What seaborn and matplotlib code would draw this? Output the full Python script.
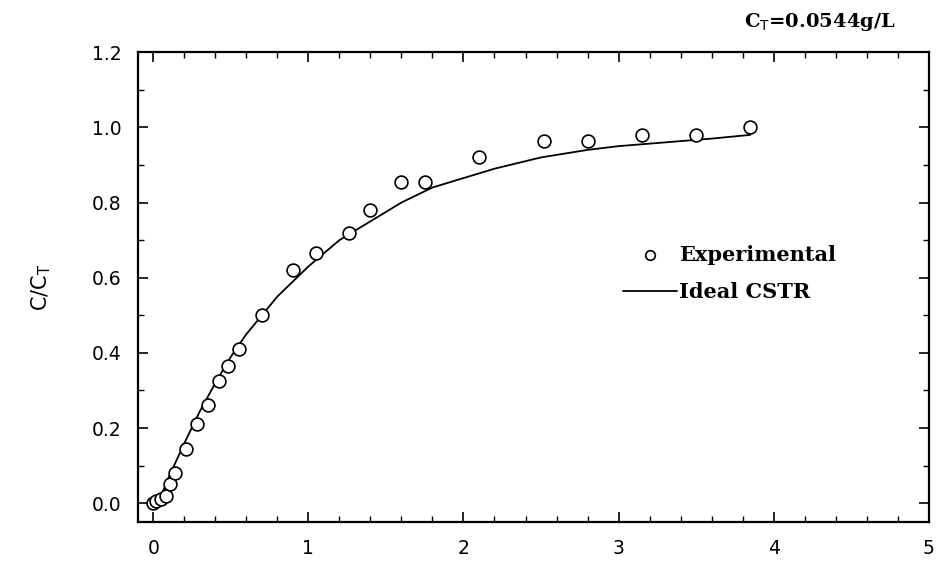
import numpy as np
import pandas as pd
import matplotlib
matplotlib.use('Agg')
import matplotlib.pyplot as plt
from matplotlib.ticker import MultipleLocator
import seaborn as sns

# ------------------------------
# Data
# ------------------------------
exp_time = [0.0, 0.02, 0.05, 0.08, 0.11, 0.14, 0.21, 0.28, 0.35, 0.42, 0.48, 0.55,
            0.70, 0.90, 1.05, 1.26, 1.40, 1.60, 1.75, 2.10, 2.52, 2.80, 3.15, 3.50, 3.85]
exp_conc = [0.0, 0.005, 0.01, 0.02, 0.05, 0.08, 0.145, 0.21, 0.26, 0.325, 0.365, 0.41,
            0.50, 0.62, 0.665, 0.72, 0.78, 0.855, 0.855, 0.92, 0.965, 0.965, 0.98, 0.98, 1.00]

cstr_time = [0.0, 0.05, 0.1, 0.2, 0.3, 0.4, 0.5, 0.6, 0.7, 0.8, 1.0, 1.2, 1.4, 1.6,
             1.8, 2.0, 2.2, 2.5, 2.8, 3.0, 3.3, 3.6, 3.85]
cstr_conc = [0.0, 0.02, 0.07, 0.16, 0.245, 0.32, 0.39, 0.45, 0.50, 0.55, 0.63, 0.70,
             0.75, 0.80, 0.84, 0.865, 0.89, 0.92, 0.94, 0.95, 0.96, 0.97, 0.98]

df_exp = pd.DataFrame({'t': exp_time, 'c': exp_conc})
df_cstr = pd.DataFrame({'t': cstr_time, 'c': cstr_conc})

sns.set_style('ticks')
plt.rcParams['font.family'] = ['DejaVu Sans']
plt.rcParams['text.color'] = 'black'
plt.rcParams['axes.labelcolor'] = 'black'
plt.rcParams['xtick.color'] = 'black'
plt.rcParams['ytick.color'] = 'black'

fig = plt.figure(figsize=(9.38, 5.61), dpi=100)
ax = fig.add_axes([0.147, 0.0695, 0.843, 0.8375])

sns.lineplot(data=df_cstr, x='t', y='c', ax=ax, color='black', linewidth=1.3,
             label='Ideal CSTR', sort=False)
sns.scatterplot(data=df_exp, x='t', y='c', ax=ax, marker='o', s=85,
                facecolor='white', edgecolor='black', linewidth=1.2,
                label='Experimental', zorder=3)

# axes ranges and ticks
ax.set_xlim(-0.1, 5)
ax.set_ylim(-0.05, 1.2)
ax.xaxis.set_major_locator(MultipleLocator(1))
ax.xaxis.set_minor_locator(MultipleLocator(0.2))
ax.yaxis.set_major_locator(MultipleLocator(0.2))
ax.yaxis.set_minor_locator(MultipleLocator(0.1))
ax.xaxis.set_major_formatter(plt.FuncFormatter(lambda v, p: f'{v:.0f}'))
ax.yaxis.set_major_formatter(plt.FuncFormatter(lambda v, p: f'{v:.1f}'))
ax.tick_params(which='both', direction='in', top=True, right=True, color='black')
ax.tick_params(which='major', length=7, width=1.2, labelsize=13.5, pad=12)
ax.tick_params(which='minor', length=4, width=1.0)
for sp in ax.spines.values():
    sp.set_linewidth(1.6)
    sp.set_color('black')

ax.set_xlabel('')
ax.set_ylabel(r'C/C$_\mathrm{T}$', fontsize=15, labelpad=28)

# legend: Experimental first
handles, labels = ax.get_legend_handles_labels()
order = [labels.index('Experimental'), labels.index('Ideal CSTR')]
leg = ax.legend([handles[i] for i in order], [labels[i] for i in order],
                loc='upper left', bbox_to_anchor=(0.59, 0.63), frameon=False,
                handlelength=2.6, handletextpad=0.1, labelspacing=0.85,
                markerscale=0.75,
                prop={'family': 'DejaVu Serif', 'size': 15, 'weight': 'bold'})

fig.text(0.955, 0.96, r'C$_\mathrm{T}$=0.0544g/L', ha='right', va='center',
         fontsize=14, family='DejaVu Serif', weight='bold')

fig.savefig('out.png', dpi=100, facecolor='white')
